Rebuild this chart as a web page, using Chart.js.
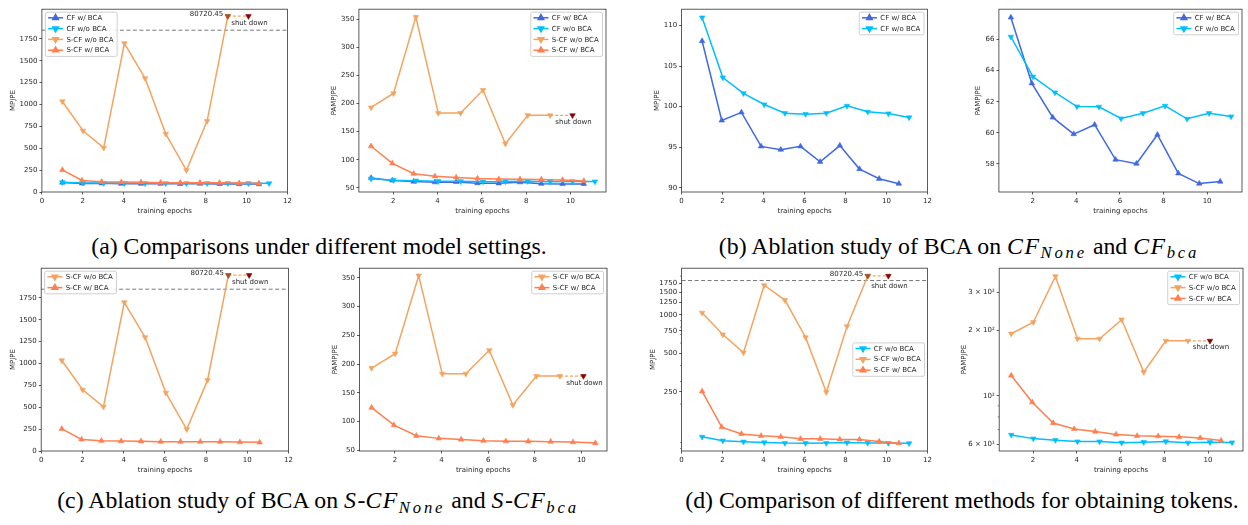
<!DOCTYPE html>
<html><head><meta charset="utf-8">
<script src="https://cdn.jsdelivr.net/npm/chart.js@4.4.1/dist/chart.umd.min.js"></script>
<style>
html,body{margin:0;padding:0;background:#fff}
body{width:1248px;height:525px;position:relative;overflow:hidden}
.pc{position:absolute}
.cap{position:absolute;font-family:'Liberation Serif','Times New Roman',serif;font-size:23.8px;line-height:23.8px;white-space:nowrap;color:#000;text-align:center;width:900px}
.m{font-style:italic;letter-spacing:1.5px}
.sb{font-style:italic;font-size:16.7px;position:relative;top:4.5px;letter-spacing:2.8px}
</style>
</head><body>
<div class="cap" style="left:-131px;top:234.6px">(a) Comparisons under different model settings.</div>
<div class="cap" style="left:509px;top:234.6px">(b) Ablation study of BCA on <span class="m">CF</span><span class="sb">None</span> and <span class="m">CF</span><span class="sb">bca</span></div>
<div class="cap" style="left:-132px;top:489px">(c) Ablation study of BCA on <span class="m">S</span>-<span class="m">CF</span><span class="sb">None</span> and <span class="m">S</span>-<span class="m">CF</span><span class="sb">bca</span></div>
<div class="cap" style="left:512px;top:489px">(d) Comparison of different methods for obtaining tokens.</div>
<script>
// ---------------- data ----------------
const epochsWo = [1.0, 2.01, 3.02, 4.03, 5.04, 6.05, 7.06, 8.07, 9.08, 10.09, 11.1];
const epochsW  = [1.0, 1.96, 2.92, 3.88, 4.84, 5.8, 6.76, 7.72, 8.68, 9.64, 10.6];

const cfW_MPJPE   = [108.1, 98.3, 99.3, 95.1, 94.7, 95.1, 93.2, 95.2, 92.3, 91.1, 90.5];
const cfWo_MPJPE  = [111.0, 103.6, 101.65, 100.27, 99.2, 99.08, 99.2, 100.1, 99.37, 99.16, 98.67];
const sCFw_MPJPE  = [252, 132, 117, 113, 111, 107, 107, 106, 106, 102, 99];
// last value (80720.45) is drawn clipped at the top of the axis
const sCFwo_MPJPE = [1035, 700, 505, 1700, 1300, 665, 248, 810, 2010];

const cfW_PA   = [67.41, 63.18, 60.99, 59.92, 60.52, 58.28, 58.02, 59.88, 57.4, 56.74, 56.87];
const cfWo_PA  = [66.17, 63.61, 62.59, 61.69, 61.67, 60.92, 61.26, 61.73, 60.9, 61.26, 61.05];
const sCFw_PA  = [124, 93.5, 75, 70.5, 68.5, 66.5, 65.5, 65.3, 64.8, 64, 62.3];
const sCFwo_PA = [193, 218, 354, 183, 183, 224, 128.5, 179, 179];

const divergedLabel = '80720.45';
const shutdownLabel = 'shut down';
const limitLine = 1850;

const xTicksFull = [0, 2, 4, 6, 8, 10, 12];
const xTicksAuto = [2, 4, 6, 8, 10];
const mpjpeTicks = [0, 250, 500, 750, 1000, 1250, 1500, 1750];
const cfMpjpeTicks = [90, 95, 100, 105, 110];
const cfPaTicks = [58, 60, 62, 64, 66];
const paTicks = [50, 100, 150, 200, 250, 300, 350];
const mpjpeLogTicks = [250, 500, 750, 1000, 1250, 1500, 1750];
const mpjpeLogMinor = [90, 100, 200, 300, 400, 600, 700, 800, 900, 2000];
const paLogTicks = [60, 100, 200, 300];
const paLogLabels = ['6 × 10¹', '10²', '2 × 10²', '3 × 10²'];
const paLogMinor = [70, 80, 90];

// ---------------- styles ----------------
const SERIES = {
  cfW:   {label:'CF w/ BCA',    color:'#4169E1', up:true,  xs:epochsW,  mp:cfW_MPJPE,   pa:cfW_PA},
  cfWo:  {label:'CF w/o BCA',   color:'#00BFFF', up:false, xs:epochsWo, mp:cfWo_MPJPE,  pa:cfWo_PA},
  sCFwo: {label:'S-CF w/o BCA', color:'#F4A460', up:false, xs:epochsWo, mp:sCFwo_MPJPE, pa:sCFwo_PA},
  sCFw:  {label:'S-CF w/ BCA',  color:'#FF7F50', up:true,  xs:epochsW,  mp:sCFw_MPJPE,  pa:sCFw_PA}
};
const FONT = 'DejaVu Sans';
const TXT = '#262626';
const LW = 1.5, PR_PT = 3.2;

function ds(key, metric, order){
  const s = SERIES[key], ys = s[metric];
  return {label:s.label, data: ys.map((y,i)=>({x:s.xs[i], y})),
    borderColor:s.color, backgroundColor:s.color, borderWidth:LW,
    pointStyle:'triangle', pointRotation: s.up?0:180, pointRadius:PR_PT, pointHoverRadius:PR_PT,
    pointBorderWidth:0.6, pointBorderColor:s.color, pointBackgroundColor:s.color,
    tension:0, order, _legend:true, _up:s.up};
}
function shutDs(metric){
  const s = SERIES.sCFwo, ys = s[metric], n = ys.length, last = ys[n-1];
  const mp = metric === 'mp';
  return {label:'', data:[{x:s.xs[n-1], y:last},{x:s.xs[n], y:last}],
    borderColor:s.color, borderWidth:1.2, borderDash:[3,2],
    pointStyle:'triangle', pointRotation:180, pointRadius: mp?[PR_PT,PR_PT]:[0,PR_PT], pointHoverRadius:0,
    pointBackgroundColor: mp?['#A0522D','#8B0000']:[s.color,'#8B0000'],
    pointBorderColor: mp?['#A0522D','#8B0000']:[s.color,'#8B0000'], pointBorderWidth:0.6,
    order:-1, _legend:false, _shut:true, _mp:mp};
}

const mplPlugin = {
  id:'mpl',
  beforeDatasetsDraw(chart, args, o){
    const {ctx, chartArea:a} = chart;
    if (o.hline != null){
      const y = chart.scales.y.getPixelForValue(o.hline);
      ctx.save(); ctx.strokeStyle='#555'; ctx.lineWidth=0.8; ctx.setLineDash([4,2.5]);
      ctx.beginPath(); ctx.moveTo(a.left,y); ctx.lineTo(a.right,y); ctx.stroke(); ctx.restore();
    }
  },
  afterDatasetsDraw(chart, args, o){
    const {ctx} = chart;
    chart.data.datasets.forEach((d, i) => {
      if (!d._shut) return;
      const meta = chart.getDatasetMeta(i);
      const p0 = meta.data[0], p1 = meta.data[1];
      ctx.save(); ctx.fillStyle = TXT; ctx.font = `7px "${FONT}"`; ctx.textBaseline='middle';
      if (d._mp){ ctx.textAlign='right'; ctx.fillText(divergedLabel, p0.x-4.5, p0.y-1.6); }
      ctx.textAlign='center'; ctx.fillText(shutdownLabel, p1.x+1, p1.y + (o.shutDy||6.8));
      ctx.restore();
    });
  },
  afterDraw(chart, args, o){
    const {ctx, chartArea:a} = chart;
    ctx.save();
    if (o.minor){
      const ys = chart.scales.y; ctx.strokeStyle='#333'; ctx.lineWidth=0.6;
      o.minor.forEach(v => { if (v < ys.min || v > ys.max) return; const y = ys.getPixelForValue(v);
        ctx.beginPath(); ctx.moveTo(a.left, y); ctx.lineTo(a.left-1.5, y); ctx.stroke(); });
    }
    ctx.strokeStyle='#333'; ctx.lineWidth=0.8;
    ctx.strokeRect(a.left, a.top, a.right-a.left, a.bottom-a.top);
    const items = chart.data.datasets.filter(d => d._legend);
    ctx.font = `7px "${FONT}"`;
    const tw = Math.max(...items.map(d => ctx.measureText(d.label).width));
    const w = 21 + tw + 3.7, h = items.length*10.8 + 1;
    let x, y;
    if (o.legend === 'ul'){ x = a.left+3.5; y = a.top+3; }
    else if (o.legend === 'ur'){ x = a.right-3.5-w; y = a.top+3; }
    else { x = a.right-3-w; y = (a.top+a.bottom)/2 - h/2; }
    ctx.beginPath(); ctx.roundRect(x, y, w, h, 1.5);
    ctx.fillStyle='rgba(255,255,255,0.85)'; ctx.fill();
    ctx.strokeStyle='#c4c4c4'; ctx.lineWidth=0.8; ctx.stroke();
    items.forEach((d, k) => {
      const cy = y + 5.6 + k*10.8;
      ctx.strokeStyle = d.borderColor; ctx.lineWidth = LW;
      ctx.beginPath(); ctx.moveTo(x+2.7, cy); ctx.lineTo(x+17.7, cy); ctx.stroke();
      ctx.fillStyle = d.borderColor;
      Chart.helpers.drawPoint(ctx, {pointStyle:'triangle', rotation: d._up?0:180, radius:PR_PT, borderWidth:0.6}, x+10.2, cy);
      ctx.fillStyle = TXT; ctx.textBaseline='middle'; ctx.textAlign='left';
      ctx.fillText(d.label, x+21, cy+0.3);
    });
    ctx.restore();
  }
};

function axisCommon(){
  return {ticks:{autoSkip:false, maxRotation:0, padding:2, font:{family:FONT, size:7}, color:TXT},
    grid:{display:true, drawOnChartArea:false, drawTicks:true, tickLength:2.5, tickColor:'#333', tickWidth:0.8},
    border:{display:false}};
}

const PT = 6, PR = 6, XH = 23;
const panels = [
  {L:42,  T:9,   R:288,  B:192, yOff:28.7, keys:['cfW','cfWo','sCFwo','sCFw'], metric:'mp', ytype:'linear', ymin:0, ymax:2090, yt:mpjpeTicks, xmin:0, xmax:12, xt:xTicksFull, legend:'ul', hline:limitLine, ytitle:'MPJPE'},
  {L:359, T:9,   R:606,  B:192, yOff:24.7, keys:['cfW','cfWo','sCFwo','sCFw'], metric:'pa', ytype:'linear', ymin:42.5, ymax:368, yt:paTicks, xmin:0.45, xmax:11.6, xt:xTicksAuto, legend:'ur', ytitle:'PAMPJPE'},
  {L:682, T:9,   R:928,  B:192, yOff:24.4, keys:['cfW','cfWo'], metric:'mp', ytype:'linear', ymin:89.47, ymax:112.03, yt:cfMpjpeTicks, xmin:0, xmax:12, xt:xTicksFull, legend:'ur', ytitle:'MPJPE'},
  {L:999, T:9,   R:1242, B:192, yOff:20.7, keys:['cfW','cfWo'], metric:'pa', ytype:'linear', ymin:56.2, ymax:67.94, yt:cfPaTicks, xmin:0.45, xmax:11.6, xt:xTicksAuto, legend:'ur', ytitle:'PAMPJPE'},
  {L:41,  T:268, R:288,  B:451, yOff:28,   keys:['sCFwo','sCFw'], metric:'mp', ytype:'linear', ymin:0, ymax:2090, yt:mpjpeTicks, xmin:0, xmax:12, xt:xTicksFull, legend:'ul', hline:limitLine, ytitle:'MPJPE'},
  {L:359, T:268, R:606,  B:451, yOff:24.3, keys:['sCFwo','sCFw'], metric:'pa', ytype:'linear', ymin:48.5, ymax:367, yt:paTicks, xmin:0.48, xmax:11.1, xt:xTicksAuto, legend:'ur', ytitle:'PAMPJPE'},
  {L:682, T:268, R:928,  B:451, yOff:28.4, keys:['cfWo','sCFwo','sCFw'], metric:'mp', ytype:'logarithmic', ymin:86, ymax:2310, yt:mpjpeLogTicks, minor:mpjpeLogMinor, xmin:0, xmax:12, xt:xTicksFull, legend:'cr', hline:limitLine, ytitle:'MPJPE', shutDy:10.5},
  {L:999, T:268, R:1242, B:451, yOff:35,   keys:['cfWo','sCFwo','sCFw'], metric:'pa', ytype:'logarithmic', ymin:55.8, ymax:386, yt:paLogTicks, ylabels:paLogLabels, minor:paLogMinor, xmin:0.45, xmax:11.6, xt:xTicksAuto, legend:'ur', ytitle:'PAMPJPE'}
];

panels.forEach(p => {
  const YW = p.yOff + 4.2;
  const W = (p.R - p.L) + YW + PR, H = (p.B - p.T) + PT + XH;
  const div = document.createElement('div'); div.className='pc';
  div.style.left = (p.L - YW) + 'px'; div.style.top = (p.T - PT) + 'px';
  div.style.width = W + 'px'; div.style.height = H + 'px';
  const cv = document.createElement('canvas'); cv.width = Math.ceil(W); cv.height = Math.ceil(H);
  cv.style.width = Math.ceil(W)+'px'; cv.style.height = Math.ceil(H)+'px';
  div.appendChild(cv); document.body.appendChild(div);

  const n = p.keys.length;
  const datasets = p.keys.map((k, i) => ds(k, p.metric, n - i));
  if (p.keys.includes('sCFwo')) datasets.push(shutDs(p.metric));

  const xa = axisCommon();
  Object.assign(xa, {type:'linear', position:'bottom', min:p.xmin, max:p.xmax, bounds:'data',
    afterFit: s => { s.height = XH; },
    afterBuildTicks: s => { s.ticks = p.xt.map(v => ({value:v})); },
    title:{display:true, text:'training epochs', font:{family:FONT, size:7}, color:TXT, padding:0}});
  xa.ticks.callback = v => String(v);

  const ya = axisCommon();
  Object.assign(ya, {type:p.ytype, position:'left', min:p.ymin, max:p.ymax, bounds:'data',
    afterFit: s => { s.width = YW; },
    afterBuildTicks: s => { s.ticks = p.yt.map(v => ({value:v})); },
    title:{display:true, text:p.ytitle, font:{family:FONT, size:7}, color:TXT, padding:0}});
  ya.ticks.callback = (v, i) => p.ylabels ? p.ylabels[i] : String(v);

  new Chart(cv, {
    type:'line',
    data:{datasets},
    options:{
      responsive:false, animation:false, devicePixelRatio:1,
      events:[],
      layout:{autoPadding:false, padding:{left:0, top:PT, right:PR, bottom:0}},
      scales:{x:xa, y:ya},
      plugins:{legend:{display:false}, tooltip:{enabled:false},
        mpl:{legend:p.legend, hline:p.hline, minor:p.minor, shutDy:p.shutDy}}
    },
    plugins:[mplPlugin]
  });
});
</script>
</body></html>
